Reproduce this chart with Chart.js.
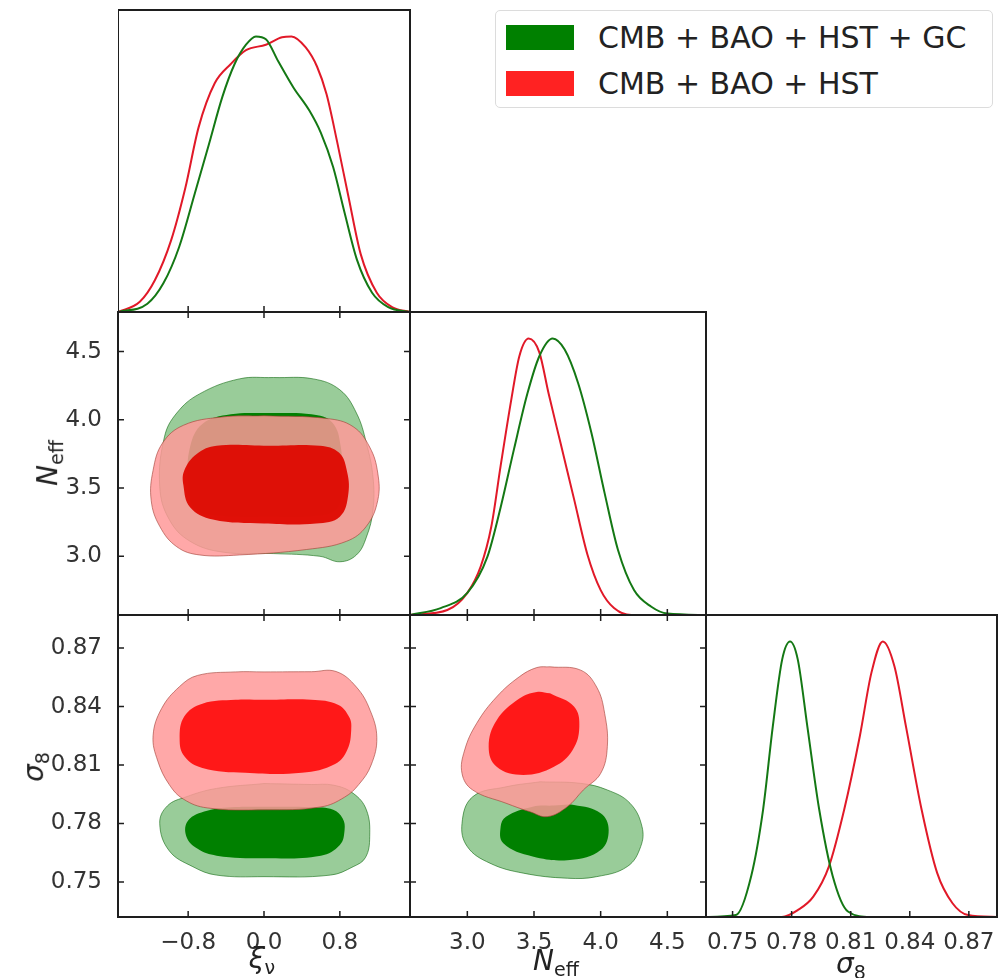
<!DOCTYPE html>
<html>
<head>
<meta charset="utf-8">
<script src="https://cdn.jsdelivr.net/npm/chart.js@4.4.1/dist/chart.umd.min.js"></script>
<style>
  body { margin: 0; background: #fff; font-family: 'DejaVu Sans', sans-serif; }
  #wrap { position: relative; width: 1005px; height: 978px; overflow: hidden; }
  .panel { position: absolute; }
  .ttl { position: absolute; font-size: 28px; font-style: italic; color: #222; white-space: nowrap;
         line-height: 1; transform: translate(-50%, -50%); }
  .ttl.rot { transform: translate(-50%, -50%) rotate(-90deg); }
  .ttl sub { font-size: 0.68em; vertical-align: -0.3em; font-style: normal; }
  #legend { position: absolute; left: 495px; top: 10px; width: 496px; height: 96px;
            border: 1.5px solid #dcdcdc; border-radius: 5px; background: #fff; }
  .row { position: absolute; left: 10px; height: 30px; display: flex; align-items: center; }
  .patch { width: 68px; height: 25px; margin-right: 24px; }
  .lbl { font-size: 30px; color: #222; }
</style>
</head>
<body>
<div id="wrap"></div>
<script>
// tick values
const xiTicks = [-0.8, 0.0, 0.8];
const neffTicks = [3.0, 3.5, 4.0, 4.5];
const s8Ticks = [0.75, 0.78, 0.81, 0.84, 0.87];

// axis ranges
const xiRange = [-1.54, 1.54];
const neffRange = [2.57, 4.79];
const s8RangeY = [0.732, 0.887];
const s8RangeX = [0.7365, 0.8843];
const pdfMax = 1.096;

const legendLabels = ['CMB + BAO + HST + GC', 'CMB + BAO + HST'];

// 1D marginals [x, normalised density]
const xiGreen = [[-1.54,0],[-1.23,0.03],[-1.06,0.105],[-0.895,0.236],[-0.73,0.43],[-0.58,0.61],[-0.44,0.78],
  [-0.31,0.90],[-0.19,0.97],[-0.085,1.0],[0.02,0.99],[0.15,0.91],[0.31,0.815],[0.48,0.73],[0.6,0.65],
  [0.73,0.525],[0.85,0.36],[0.98,0.19],[1.14,0.07],[1.31,0.018],[1.54,0]];
const xiRed = [[-1.54,0],[-1.31,0.037],[-1.15,0.116],[-0.98,0.26],[-0.83,0.45],[-0.69,0.67],[-0.52,0.83],
  [-0.35,0.90],[-0.19,0.95],[0.02,0.97],[0.19,0.997],[0.29,1.0],[0.44,0.96],[0.56,0.89],[0.66,0.79],
  [0.77,0.62],[0.89,0.42],[1.02,0.21],[1.19,0.07],[1.35,0.018],[1.54,0]];

const neffGreen = [[2.57,0],[2.8,0.025],[3.0,0.08],[3.15,0.21],[3.25,0.39],[3.35,0.60],[3.45,0.80],
  [3.54,0.936],[3.64,1.0],[3.73,0.96],[3.83,0.84],[3.93,0.66],[4.03,0.44],[4.13,0.235],[4.25,0.09],
  [4.38,0.03],[4.5,0.005],[4.79,0]];
const neffRed = [[2.57,0],[2.85,0.018],[3.0,0.08],[3.10,0.175],[3.18,0.32],[3.25,0.54],[3.33,0.78],
  [3.39,0.936],[3.46,1.0],[3.54,0.95],[3.61,0.80],[3.70,0.62],[3.80,0.42],[3.90,0.22],[4.0,0.09],
  [4.10,0.025],[4.23,0],[4.79,0]];

const s8Green = [[0.7365,0],[0.7517,0.007],[0.7595,0.15],[0.7655,0.39],[0.7704,0.69],[0.7752,0.935],
  [0.7792,1.0],[0.7831,0.935],[0.788,0.69],[0.794,0.39],[0.8008,0.15],[0.8086,0.02],[0.82,0],[0.8843,0]];
const s8Red = [[0.7365,0],[0.775,0],[0.7831,0.025],[0.791,0.074],[0.7989,0.183],[0.8067,0.39],
  [0.8146,0.655],[0.8205,0.886],[0.8263,1.0],[0.8322,0.91],[0.8381,0.69],[0.846,0.39],[0.8539,0.16],
  [0.8617,0.05],[0.8696,0.007],[0.8843,0]];

// 2D contours (closed outlines) xi - Neff
const xiNeffGreenOuter = [[0.1,4.31],[0.52,4.30],[0.8,4.22],[0.975,4.05],[1.08,3.83],[1.15,3.58],[1.15,3.34],
  [1.08,3.14],[0.975,3.01],[0.8,2.96],[0.59,3.0],[0.1,3.02],[-0.43,3.03],[-0.78,3.11],[-1.0,3.27],
  [-1.1,3.51],[-1.05,3.875],[-0.92,4.05],[-0.68,4.19],[-0.26,4.30],[0.1,4.31]];
const xiNeffGreenInner = [[0.05,4.05],[0.5,4.04],[0.72,3.98],[0.81,3.8],[0.82,3.55],[0.78,3.36],[0.6,3.3],
  [0.05,3.29],[-0.5,3.3],[-0.74,3.36],[-0.8,3.55],[-0.78,3.8],[-0.65,3.97],[-0.35,4.04],[0.05,4.05]];
const xiNeffRedOuter = [[0.0,4.03],[0.66,4.01],[0.94,3.95],[1.115,3.8],[1.2,3.61],[1.2,3.41],[1.08,3.22],
  [0.87,3.11],[0.45,3.05],[-0.26,3.01],[-0.68,3.01],[-0.92,3.07],[-1.1,3.22],[-1.19,3.41],[-1.17,3.63],
  [-1.07,3.83],[-0.85,3.96],[-0.45,4.02],[0.0,4.03]];
const xiNeffRedInner = [[0.05,3.81],[0.59,3.81],[0.79,3.76],[0.87,3.64],[0.89,3.46],[0.8,3.29],[0.55,3.24],
  [0.0,3.24],[-0.54,3.27],[-0.78,3.36],[-0.85,3.52],[-0.84,3.63],[-0.71,3.75],[-0.5,3.81],[0.05,3.81]];

// xi - sigma8
const xiS8GreenOuter = [[0.0,0.8005],[0.5,0.8],[0.73,0.7997],[0.94,0.7955],[1.08,0.787],[1.115,0.7732],
  [1.07,0.7625],[0.94,0.7578],[0.7,0.7535],[0.0,0.7527],[-0.5,0.7535],[-0.75,0.7578],[-1.0,0.766],
  [-1.1,0.780],[-1.02,0.789],[-0.82,0.7937],[-0.5,0.798],[0.0,0.8005]];
const xiS8GreenInner = [[0.0,0.7886],[0.5,0.7883],[0.73,0.787],[0.83,0.7825],[0.85,0.7767],[0.8,0.769],
  [0.6,0.7635],[0.0,0.7621],[-0.5,0.7635],[-0.7,0.767],[-0.82,0.7735],[-0.8,0.7815],[-0.6,0.7865],
  [-0.3,0.7884],[0.0,0.7886]];
const xiS8RedOuter = [[0.0,0.8578],[0.5,0.8579],[0.76,0.858],[0.975,0.850],[1.12,0.838],[1.19,0.824],
  [1.13,0.81],[1.0,0.8],[0.85,0.7935],[0.6,0.7885],[0.0,0.787],[-0.6,0.788],[-0.85,0.7925],[-1.0,0.8],
  [-1.12,0.812],[-1.17,0.825],[-1.08,0.839],[-0.89,0.8503],[-0.7,0.856],[-0.3,0.8578],[0.0,0.8578]];
const xiS8RedInner = [[0.0,0.8435],[0.5,0.8435],[0.78,0.841],[0.9,0.8345],[0.92,0.828],[0.88,0.818],
  [0.75,0.8105],[0.4,0.806],[-0.2,0.806],[-0.65,0.8085],[-0.84,0.8145],[-0.89,0.8235],[-0.84,0.835],
  [-0.65,0.8415],[-0.3,0.8435],[0.0,0.8435]];

// Neff - sigma8
const neffS8GreenOuter = [[3.545,0.8014],[3.85,0.8006],[4.05,0.7972],[4.22,0.7904],[4.31,0.7784],[4.30,0.7681],
  [4.20,0.7579],[3.97,0.7527],[3.75,0.7519],[3.42,0.7545],[3.17,0.7596],[3.0,0.7681],[2.96,0.7801],
  [3.04,0.7937],[3.29,0.7988],[3.545,0.8014]];
const neffS8GreenInner = [[3.65,0.7892],[3.80,0.7895],[4.0,0.7852],[4.06,0.7767],[4.0,0.7664],[3.77,0.7613],
  [3.49,0.763],[3.27,0.7698],[3.25,0.7784],[3.29,0.7835],[3.49,0.7886],[3.65,0.7892]];
const neffS8RedOuter = [[3.62,0.8604],[3.85,0.8587],[3.97,0.850],[4.03,0.8365],[4.05,0.8194],[4.0,0.8057],
  [3.87,0.7972],[3.75,0.7886],[3.6,0.7835],[3.47,0.786],[3.29,0.7904],[3.04,0.7972],[2.96,0.8057],
  [2.98,0.8177],[3.07,0.8314],[3.22,0.845],[3.39,0.8553],[3.52,0.86],[3.62,0.8604]];
const neffS8RedInner = [[3.62,0.8468],[3.80,0.840],[3.84,0.8296],[3.79,0.8177],[3.65,0.8091],[3.42,0.8049],
  [3.22,0.8091],[3.16,0.8194],[3.22,0.833],[3.39,0.8441],[3.52,0.8475],[3.62,0.8468]];

Chart.defaults.font.family = "'DejaVu Sans', sans-serif";
Chart.defaults.animation = false;

const GREEN_LINE = 'rgb(20,120,20)';
const RED_LINE = 'rgb(225,25,40)';

const cols = [[118, 410], [410, 706], [706, 997]];
const rows = [[10, 312], [312, 615], [615, 917]];

// inward ticks + box frame
const frameTicks = {
  id: 'frameTicks',
  afterDraw(chart, args, opts) {
    const { ctx, chartArea: a, scales } = chart;
    const L = 6;
    ctx.save();
    ctx.strokeStyle = '#1e1e1e';
    ctx.lineWidth = 1.5;
    ctx.beginPath();
    (opts.xTicks || []).forEach(v => {
      const px = scales.x.getPixelForValue(v);
      ctx.moveTo(px, a.bottom); ctx.lineTo(px, a.bottom - L);
      if (opts.all) { ctx.moveTo(px, a.top); ctx.lineTo(px, a.top + L); }
    });
    (opts.yTicks || []).forEach(v => {
      const py = scales.y.getPixelForValue(v);
      ctx.moveTo(a.left, py); ctx.lineTo(a.left + L, py);
      if (opts.all) { ctx.moveTo(a.right, py); ctx.lineTo(a.right - L, py); }
    });
    ctx.stroke();
    ctx.lineWidth = 2;
    ctx.strokeRect(a.left, a.top, a.right - a.left, a.bottom - a.top);
    ctx.restore();
  }
};

function fmt(v, d) {
  const s = Math.abs(v).toFixed(d);
  return v < 0 ? '\u2212' + s : s;
}

function pts(arr) {
  return arr.map(p => ({ x: p[0], y: p[1] }));
}

function curve(arr, color) {
  return { data: pts(arr), borderColor: color, borderWidth: 2, pointRadius: 0,
           fill: false, cubicInterpolationMode: 'monotone' };
}

function region(arr, fillColor, edgeColor) {
  return { data: pts(arr), backgroundColor: fillColor, borderColor: edgeColor || 'transparent',
           borderWidth: 1, pointRadius: 0, fill: 'shape', tension: 0.4 };
}

function contours(gOut, gIn, rOut, rIn, redInnerColor) {
  const list = [
    region(gOut, 'rgb(153,204,153)', 'rgba(0,95,0,0.55)'),
    region(gIn, 'rgb(0,128,0)'),
    region(rOut, 'rgba(255,153,153,0.85)', 'rgba(160,60,50,0.6)'),
    region(rIn, redInnerColor || 'rgba(255,0,0,0.85)')
  ];
  // first in list is drawn first (bottom)
  list.forEach((d, i) => { d.order = list.length - i; });
  return list;
}

function makePanel(cfg) {
  const [x0, x1] = cols[cfg.col];
  const [y0, y1] = rows[cfg.row];
  const padL = cfg.yLabels ? x0 : 0;
  const padB = cfg.xLabels ? 61 : 0;
  const pad = 2;
  const w = (x1 - x0) + padL + pad;
  const h = (y1 - y0) + padB + pad;

  const div = document.createElement('div');
  div.className = 'panel';
  div.style.left = (x0 - padL) + 'px';
  div.style.top = (y0 - pad) + 'px';
  const canvas = document.createElement('canvas');
  canvas.width = w; canvas.height = h;
  div.appendChild(canvas);
  document.getElementById('wrap').appendChild(div);

  const tickFont = { size: 23 };
  new Chart(canvas, {
    type: 'line',
    data: { datasets: cfg.datasets },
    options: {
      responsive: false,
      layout: { padding: { top: pad, right: pad, left: 0, bottom: 0 } },
      plugins: {
        legend: { display: false },
        tooltip: { enabled: false },
        frameTicks: { xTicks: cfg.xTicks, yTicks: cfg.yTicks, all: cfg.all }
      },
      scales: {
        x: {
          type: 'linear', min: cfg.xRange[0], max: cfg.xRange[1],
          display: !!cfg.xLabels,
          grid: { display: false }, border: { display: false },
          afterBuildTicks: s => { s.ticks = cfg.xTicks.map(v => ({ value: v })); },
          afterFit: s => { s.height = padB; s.paddingLeft = 0; s.paddingRight = 0; },
          ticks: { font: tickFont, color: '#333', padding: 4, maxRotation: 0, minRotation: 0,
                   autoSkip: false, callback: v => fmt(v, cfg.xDec) }
        },
        y: {
          type: 'linear', min: cfg.yRange[0], max: cfg.yRange[1],
          display: !!cfg.yLabels,
          grid: { display: false }, border: { display: false },
          afterBuildTicks: s => { s.ticks = (cfg.yTicks || []).map(v => ({ value: v })); },
          afterFit: s => { s.width = padL; s.paddingTop = 0; s.paddingBottom = 0; },
          ticks: { font: tickFont, color: '#333', padding: 8,
                   callback: v => fmt(v, cfg.yDec) }
        }
      }
    },
    plugins: [frameTicks]
  });
}

// diagonal: xi
makePanel({ col: 0, row: 0, xRange: xiRange, yRange: [0, pdfMax], xTicks: xiTicks, xDec: 1,
  datasets: [curve(xiGreen, GREEN_LINE), curve(xiRed, RED_LINE)] });
// xi - Neff (red core sits on the dark green core here)
makePanel({ col: 0, row: 1, xRange: xiRange, yRange: neffRange, xTicks: xiTicks, yTicks: neffTicks,
  xDec: 1, yDec: 1, yLabels: true, all: true,
  datasets: contours(xiNeffGreenOuter, xiNeffGreenInner, xiNeffRedOuter, xiNeffRedInner, 'rgba(222,8,0,0.95)') });
// diagonal: Neff
makePanel({ col: 1, row: 1, xRange: neffRange, yRange: [0, pdfMax], xTicks: neffTicks, xDec: 1,
  datasets: [curve(neffGreen, GREEN_LINE), curve(neffRed, RED_LINE)] });
// xi - sigma8
makePanel({ col: 0, row: 2, xRange: xiRange, yRange: s8RangeY, xTicks: xiTicks, yTicks: s8Ticks,
  xDec: 1, yDec: 2, xLabels: true, yLabels: true, all: true,
  datasets: contours(xiS8GreenOuter, xiS8GreenInner, xiS8RedOuter, xiS8RedInner) });
// Neff - sigma8
makePanel({ col: 1, row: 2, xRange: neffRange, yRange: s8RangeY, xTicks: neffTicks, yTicks: s8Ticks,
  xDec: 1, yDec: 2, xLabels: true, all: true,
  datasets: contours(neffS8GreenOuter, neffS8GreenInner, neffS8RedOuter, neffS8RedInner) });
// diagonal: sigma8
makePanel({ col: 2, row: 2, xRange: s8RangeX, yRange: [0, pdfMax], xTicks: s8Ticks, xDec: 2,
  xLabels: true,
  datasets: [curve(s8Green, GREEN_LINE), curve(s8Red, RED_LINE)] });

// axis titles
const wrap = document.getElementById('wrap');
function title(html, x, y, rot) {
  const d = document.createElement('div');
  d.className = 'ttl' + (rot ? ' rot' : '');
  d.style.left = x + 'px';
  d.style.top = y + 'px';
  d.innerHTML = html;
  wrap.appendChild(d);
}
title('\u03be<sub>\u03bd</sub>', 262, 961);
title('N<sub>eff</sub>', 556, 963);
title('\u03c3<sub>8</sub>', 851, 966);
title('N<sub>eff</sub>', 50, 463, true);
title('\u03c3<sub>8</sub>', 36, 767, true);

// legend
const leg = document.createElement('div');
leg.id = 'legend';
[['rgb(0,128,0)', legendLabels[0]], ['rgb(255,34,34)', legendLabels[1]]].forEach((it, i) => {
  const r = document.createElement('div');
  r.className = 'row';
  r.style.top = (11 + i * 46) + 'px';
  r.innerHTML = '<div class="patch" style="background:' + it[0] + '"></div><div class="lbl">' + it[1] + '</div>';
  leg.appendChild(r);
});
wrap.appendChild(leg);
</script>
</body>
</html>
